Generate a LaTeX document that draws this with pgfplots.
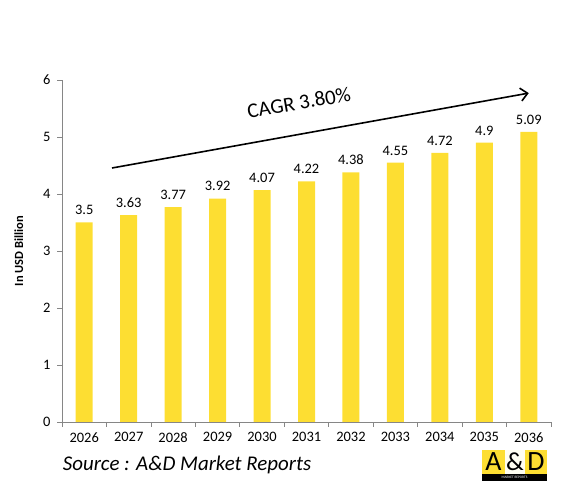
\documentclass[border=0pt]{standalone}
\usepackage{pgfplots}
\pgfplotsset{compat=1.18}
\usepackage{fontspec}
\setmainfont{Carlito}
\usetikzlibrary{arrows.meta}
\definecolor{baryel}{RGB}{253,222,50}
\definecolor{axgray}{RGB}{134,134,134}
\begin{document}
\begin{tikzpicture}[x=1bp,y=1bp]
\useasboundingbox (0,0) rectangle (566,492);
\begin{axis}[
  at={(62bp,70bp)}, anchor=south west,
  scale only axis, width=489bp, height=342bp,
  xmin=-0.5, xmax=10.5, ymin=0, ymax=6,
  axis x line*=bottom, axis y line*=left,
  axis line style={axgray, line width=0.8pt},
  xtick={0,...,10},
  xticklabels={2026,2027,2028,2029,2030,2031,2032,2033,2034,2035,2036},
  minor xtick={-0.5,0.5,...,10.5},
  ytick={0,...,6},
  tick align=outside,
  major tick length=5bp,
  minor tick length=5bp,
  x tick style={draw=none},
  minor x tick style={draw=axgray, line width=0.8pt},
  y tick style={axgray, line width=0.8pt},
  tick label style={font=\fontsize{14.5}{16}\selectfont, black},
  /pgf/number format/assume math mode=true,
  xticklabel style={yshift=-2bp},
  yticklabel style={xshift=-3bp},
  ylabel={\textbf{In USD Billion}},
  ylabel style={font=\fontsize{12.5}{14}\selectfont, at={(axis description cs:-0.072,0.5)}},
  ybar, bar width=17bp,
  nodes near coords,
  every node near coord/.append style={font=\fontsize{14.5}{16}\selectfont, black, yshift=4bp},
  clip=false,
]
\addplot[fill=baryel, draw=none] coordinates {
(0,3.5) (1,3.63) (2,3.77) (3,3.92) (4,4.07) (5,4.22) (6,4.38) (7,4.55) (8,4.72) (9,4.9) (10,5.09)};
\draw[line width=1.6pt, -{Straight Barb[length=7bp,width=13bp]}] (axis cs:0.625,4.456) -- (axis cs:10.0,5.77);
\node[rotate=10, inner sep=0pt, font=\fontsize{21}{23}\selectfont] at (axis cs:4.83,5.6) {CAGR 3.80\%};
\end{axis}
\node[font=\fontsize{21}{23}\selectfont\itshape] at (187,27) {Source : A\&D Market Reports};
% logo
\fill[baryel] (482,18) rectangle (505,42);
\fill[white!95!yellow] (505,18) rectangle (525,42);
\fill[baryel] (525,18) rectangle (547,42);
\fill[black] (482,11) rectangle (547,18);
\node[inner sep=0pt, font=\fontsize{28}{28}\selectfont] at (493.5,30.5) {A};
\node[inner sep=0pt, font=\fontsize{26}{26}\selectfont] at (515,30.5) {\&};
\node[inner sep=0pt, font=\fontsize{28}{28}\selectfont] at (536,30.5) {D};
\node[font=\fontsize{3.5}{4}\selectfont, white, inner sep=0] at (514.5,14.5) {MARKET REPORTS};
\end{tikzpicture}
\end{document}
